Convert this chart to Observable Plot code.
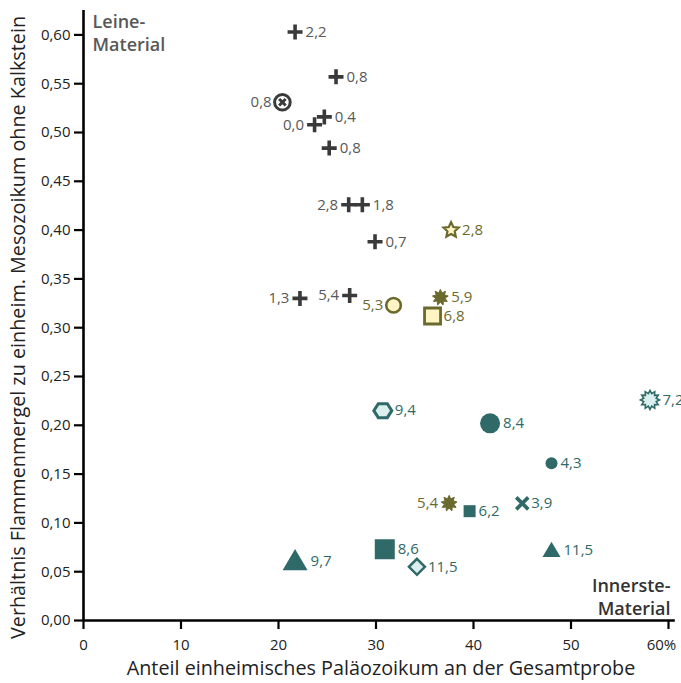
<!DOCTYPE html>
<html><head><meta charset="utf-8">
<script src="https://cdn.jsdelivr.net/npm/d3@7"></script>
<script src="https://cdn.jsdelivr.net/npm/@observablehq/plot@0.6"></script>
<style>body{margin:0;background:#fff}</style>
</head><body><div id="chart"></div>
<script>
// ---- data ----
const groups = ["Leine","Leine","Leine","Leine","Leine","Leine","Leine","Leine","Leine","Leine","Leine",
  "Misch","Misch","Misch","Misch","Misch",
  "Innerste","Innerste","Innerste","Innerste","Innerste","Innerste","Innerste","Innerste","Innerste","Innerste"];
const kinds = ["plus","plus","circleX","plus","plus","plus","plus","plus","plus","plus","plus",
  "star","ring","burst","squareOpen","burst",
  "hexagon","circleL","circleS","squareS","times","squareL","diamond","triangleS","triangleL","sun"];
const xValues = [21.7,25.9,20.4,24.7,23.7,25.2,27.2,28.6,29.9,22.2,27.3,
  37.7,31.8,36.6,35.8,37.5,
  30.7,41.7,48.0,39.6,45.0,30.9,34.2,48.0,21.7,58.1];
const yValues = [0.603,0.557,0.531,0.516,0.508,0.484,0.426,0.426,0.388,0.330,0.333,
  0.400,0.323,0.331,0.312,0.120,
  0.215,0.202,0.161,0.112,0.120,0.073,0.055,0.072,0.061,0.226];
const labels = ["2,2","0,8","0,8","0,4","0,0","0,8","2,8","1,8","0,7","1,3","5,4",
  "2,8","5,3","5,9","6,8","5,4",
  "9,4","8,4","4,3","6,2","3,9","8,6","11,5","11,5","9,7","7,2"];
const leftLabeled = [2,4,6,9,10,12,15];
const xTicks = [0,10,20,30,40,50,60];
const yTicks = [0,0.05,0.10,0.15,0.20,0.25,0.30,0.35,0.40,0.45,0.50,0.55,0.60];

// ---- styles ----
const DARK = "#3a3a3a", GREYTXT = "#585858", OLIVE = "#6b6a2e", TEAL = "#2f6a68";
const YEL = "#fff5c4", CYAN = "#dcefef";
const FONT = "Open Sans";

const R = s => Math.sqrt(s / Math.PI);
const starPath = (ctx, r, n, inner, rot = -Math.PI/2) => {
  for (let i = 0; i < 2*n; i++) {
    const a = rot + i * Math.PI / n, rr = i % 2 ? r*inner : r;
    const px = rr*Math.cos(a), py = rr*Math.sin(a);
    i ? ctx.lineTo(px, py) : ctx.moveTo(px, py);
  }
  ctx.closePath();
};
const sym = {
  plus: {draw(c,s){const r=R(s);c.moveTo(-r,0);c.lineTo(r,0);c.moveTo(0,-r);c.lineTo(0,r);}},
  times: {draw(c,s){const r=R(s);c.moveTo(-r,-r);c.lineTo(r,r);c.moveTo(-r,r);c.lineTo(r,-r);}},
  circle: {draw(c,s){const r=R(s);c.moveTo(r,0);c.arc(0,0,r,0,2*Math.PI);}},
  circleX: {draw(c,s){const r=R(s);c.moveTo(r,0);c.arc(0,0,r,0,2*Math.PI);const q=r*0.42;c.moveTo(-q,-q);c.lineTo(q,q);c.moveTo(-q,q);c.lineTo(q,-q);}},
  square: {draw(c,s){const r=R(s);c.rect(-r,-r,2*r,2*r);}},
  diamond: {draw(c,s){const r=R(s);c.moveTo(0,-r);c.lineTo(r,0);c.lineTo(0,r);c.lineTo(-r,0);c.closePath();}},
  triangle: {draw(c,s){const r=R(s);c.moveTo(0,-r*0.95);c.lineTo(r,r*0.75);c.lineTo(-r,r*0.75);c.closePath();}},
  hexagon: {draw(c,s){const r=R(s);for(let i=0;i<6;i++){const a=i*Math.PI/3;const px=r*Math.cos(a),py=r*0.9*Math.sin(a);i?c.lineTo(px,py):c.moveTo(px,py);}c.closePath();}},
  star: {draw(c,s){starPath(c,R(s),5,0.48);}},
  burst: {draw(c,s){starPath(c,R(s),9,0.6);}},
  sun: {draw(c,s){starPath(c,R(s),12,0.68);}}
};
const kindStyle = {
  plus:      {symbol: sym.plus, r: 7.5, fill: "none", stroke: DARK, strokeWidth: 3.6, txt: GREYTXT},
  circleX:   {symbol: sym.circleX, r: 7.8, fill: "none", stroke: DARK, strokeWidth: 3, txt: GREYTXT},
  star:      {symbol: sym.star, r: 8, fill: YEL, stroke: OLIVE, strokeWidth: 2.2, txt: OLIVE},
  ring:      {symbol: sym.circle, r: 7.3, fill: YEL, stroke: OLIVE, strokeWidth: 2.6, txt: OLIVE},
  burst:     {symbol: sym.burst, r: 8, fill: OLIVE, stroke: OLIVE, strokeWidth: 1, txt: OLIVE},
  squareOpen:{symbol: sym.square, r: 8, fill: YEL, stroke: OLIVE, strokeWidth: 2.8, txt: OLIVE},
  hexagon:   {symbol: sym.hexagon, r: 9, fill: CYAN, stroke: TEAL, strokeWidth: 3, txt: TEAL},
  circleL:   {symbol: sym.circle, r: 10, fill: TEAL, stroke: "none", strokeWidth: 0, txt: TEAL},
  circleS:   {symbol: sym.circle, r: 6, fill: TEAL, stroke: "none", strokeWidth: 0, txt: TEAL},
  squareS:   {symbol: sym.square, r: 6, fill: TEAL, stroke: "none", strokeWidth: 0, txt: TEAL},
  times:     {symbol: sym.times, r: 6, fill: "none", stroke: TEAL, strokeWidth: 3.6, txt: TEAL},
  squareL:   {symbol: sym.square, r: 10, fill: TEAL, stroke: "none", strokeWidth: 0, txt: TEAL},
  diamond:   {symbol: sym.diamond, r: 8, fill: CYAN, stroke: TEAL, strokeWidth: 2.5, txt: TEAL},
  triangleS: {symbol: sym.triangle, r: 9, fill: TEAL, stroke: "none", strokeWidth: 0, txt: TEAL},
  triangleL: {symbol: sym.triangle, r: 12.5, fill: TEAL, stroke: "none", strokeWidth: 0, txt: TEAL},
  sun:       {symbol: sym.sun, r: 9.5, fill: CYAN, stroke: TEAL, strokeWidth: 1.6, txt: TEAL}
};

const table = groups.map((g, i) => ({i, group: g, kind: kinds[i], x: xValues[i], y: yValues[i], label: labels[i]}));

const marks = [];
for (const k of Object.keys(kindStyle)) {
  const st = kindStyle[k];
  const pts = table.filter(d => d.kind === k);
  if (!pts.length) continue;
  marks.push(Plot.dot(pts, {x: "x", y: "y", symbol: st.symbol, r: st.r, fill: st.fill, stroke: st.stroke, strokeWidth: st.strokeWidth, strokeLinecap: "butt"}));
  const right = pts.filter(d => !leftLabeled.includes(d.i));
  const left = pts.filter(d => leftLabeled.includes(d.i));
  const off = st.r + 3;
  marks.push(Plot.text(right, {x: "x", y: "y", text: "label", dx: off, textAnchor: "start", fill: st.txt, fontSize: 15, fontFamily: FONT}));
  marks.push(Plot.text(left, {x: "x", y: "y", text: "label", dx: -off, textAnchor: "end", fill: st.txt, fontSize: 15, fontFamily: FONT}));
}

const fmtY = d => d3.format(".2f")(d).replace(".", ",");
const lastX = xTicks[xTicks.length - 1];

const chart = Plot.plot({
  width: 681, height: 683,
  marginLeft: 83, marginRight: 13, marginTop: 10, marginBottom: 63,
  style: {fontFamily: FONT, background: "#fff"},
  x: {domain: [0, 60]},
  y: {domain: [0, 0.625]},
  marks: [
    Plot.axisX({ticks: xTicks, tickSize: 9, tickPadding: 10, tickFormat: d => d === lastX ? "" : String(d), fontSize: 15, strokeWidth: 2.2, stroke: "#000", color: "#222", label: null}),
    Plot.axisX({ticks: [lastX], tickSize: 0, tickPadding: 19, dx: -7, tickFormat: d => d + "%", fontSize: 15, color: "#222", label: null}),
    Plot.axisY({ticks: yTicks, tickSize: 9, tickPadding: 4, tickFormat: fmtY, fontSize: 15, strokeWidth: 2.2, stroke: "#000", color: "#222", label: null}),
    Plot.ruleX([0], {y1: 0, y2: 0.625, stroke: "#000", strokeWidth: 2.6}),
    Plot.ruleY([0], {x1: 0, x2: 60.7, stroke: "#000", strokeWidth: 2.6}),
    Plot.text(["Verhältnis Flammenmergel zu einheim. Mesozoikum ohne Kalkstein"], {frameAnchor: "left", textAnchor: "middle", rotate: -90, dx: -65, dy: 12, fontSize: 19.8, fill: "#222", fontFamily: FONT}),
    Plot.text(["Anteil einheimisches Paläozoikum an der Gesamtprobe"], {frameAnchor: "bottom", textAnchor: "middle", dx: 5, dy: 54, fontSize: 19.8, fill: "#222", fontFamily: FONT}),
    Plot.text(["Leine-\nMaterial"], {frameAnchor: "top-left", textAnchor: "start", lineAnchor: "top", dx: 9, dy: 2, lineHeight: 1.25, fontSize: 18, fontWeight: 600, fill: GREYTXT, fontFamily: FONT}),
    Plot.text(["Innerste-\nMaterial"], {frameAnchor: "bottom-right", textAnchor: "end", lineAnchor: "bottom", dx: 2, dy: -6, lineHeight: 1.25, fontSize: 18, fontWeight: 600, fill: "#333", fontFamily: FONT}),
    ...marks
  ]
});
document.getElementById("chart").appendChild(chart);
</script>
</body></html>
